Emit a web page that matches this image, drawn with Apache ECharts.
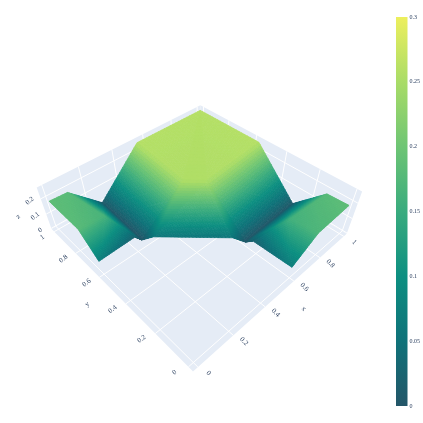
<!DOCTYPE html>
<html>
<head>
<meta charset="utf-8">
<script src="https://cdn.jsdelivr.net/npm/echarts@6/dist/echarts.min.js"></script>
<style>
html, body { margin: 0; background: #fff; }
#chart { width: 423px; height: 423px; }
</style>
</head>
<body>
<div id="chart"></div>
<script>
// surface vertices
const vertexNames = ['L1','L2','L3','L4','L5','L6a','L6','Lm','B1','B2','T1','T2','T3','Tl','Tr','R1','R2','R3','R4','R5','R6a','R6','Rm'];
const vertexX = [0, 0.10, 0.27, 0, 0, 0.235, 0.258, 0.141, 0.282, 0.552, 0.54, 1, 1, 0.511, 0.591, 1, 1, 1, 0.763, 0.6, 0.633, 0.615, 0.753];
const vertexY = [1, 1, 1, 0.75, 0.62, 0.667, 0.643, 0.755, 0.578, 0.311, 1, 1, 0.56, 0.61, 0.53, 0, 0.12, 0.29, 0, 0, 0.25, 0.283, 0.147];
const vertexZ = [0.185, 0.18, 0.005, 0.18, 0.07, 0.02, 0, 0.165, 0.055, 0.055, 0.258, 0.258, 0.258, 0.255, 0.255, 0.185, 0.18, 0.005, 0.17, 0.07, 0.02, 0, 0.16];
const faces = [
  'L1 L2 L4', 'L2 Lm L4', 'L2 L3 Lm', 'L3 L6 Lm', 'L6 L6a Lm', 'L6a L5 Lm', 'L5 L4 Lm',
  'R1 R2 R4', 'R2 Rm R4', 'R2 R3 Rm', 'R3 R6 Rm', 'R6 R6a Rm', 'R6a R5 Rm', 'R5 R4 Rm',
  'L3 T1 Tl', 'L3 Tl L6', 'L6 Tl B1', 'B1 Tl Tr', 'B1 Tr B2', 'B2 Tr R6', 'R6 Tr R3', 'R3 Tr T3',
  'T1 T2 Tl', 'T2 Tr Tl', 'T2 T3 Tr'
];
const xTicks = [0, 0.2, 0.4, 0.6, 0.8, 1];
const yTicks = [0, 0.2, 0.4, 0.6, 0.8, 1];
const zTicks = [0, 0.1, 0.2];
const colorStops = ['#245668', '#0f7279', '#0d8f81', '#39ab7e', '#6ec574', '#a9dc67', '#edef5d'];
const colorMax = [0.3];

// camera for the 3d box
const eye = [-0.473, -0.521, 1.476], view = [0.465, 0.510, -0.722];
const FOCAL = 426, CX = 191, CY = 231.3, ROLL = -Math.PI / 180, BOX_H = 0.263;
const xyRange = [-0.026, 1.026], zRange = [-0.005, 0.27];
const TEXT = '#2a3f5f', FONT = 'Liberation Serif';

const dot = (a, b) => a[0] * b[0] + a[1] * b[1] + a[2] * b[2];
const cross = (a, b) => [a[1] * b[2] - a[2] * b[1], a[2] * b[0] - a[0] * b[2], a[0] * b[1] - a[1] * b[0]];
const unit = a => { const l = Math.hypot(a[0], a[1], a[2]); return a.map(v => v / l); };
const fw = unit(view), rt = unit(cross(fw, [0, 0, 1])), dn = cross(fw, rt);

function projectBox(b) {
  const p = [b[0] - eye[0], b[1] - eye[1], b[2] - eye[2]];
  const d = dot(p, fw), u = dot(p, rt) / d * FOCAL, v = dot(p, dn) / d * FOCAL;
  return [CX + u * Math.cos(ROLL) - v * Math.sin(ROLL), CY + u * Math.sin(ROLL) + v * Math.cos(ROLL), d];
}
const bx = v => (v - xyRange[0]) / (xyRange[1] - xyRange[0]);
const bz = v => (v - zRange[0]) / (zRange[1] - zRange[0]) * BOX_H;
const project = (x, y, z) => projectBox([bx(x), bx(y), bz(z)]);

// split every face so the colour follows z smoothly
const STEPS = 22;
const cells = [];
faces.forEach(f => {
  const [a, b, c] = f.split(' ').map(n => vertexNames.indexOf(n));
  const at = (i, j) => {
    const k = STEPS - i - j;
    const w = arr => (arr[a] * k + arr[b] * i + arr[c] * j) / STEPS;
    return [w(vertexX), w(vertexY), w(vertexZ)];
  };
  const add = tri => {
    const pts = tri.map(p => project(p[0], p[1], p[2]));
    const z = (tri[0][2] + tri[1][2] + tri[2][2]) / 3;
    cells.push({
      points: pts.map(p => [p[0], p[1]]),
      depth: (pts[0][2] + pts[1][2] + pts[2][2]) / 3,
      color: echarts.color.lerp(z / colorMax[0], colorStops)
    });
  };
  for (let i = 0; i < STEPS; i++) {
    for (let j = 0; j < STEPS - i; j++) {
      add([at(i, j), at(i + 1, j), at(i, j + 1)]);
      if (i + j < STEPS - 1) add([at(i + 1, j), at(i + 1, j + 1), at(i, j + 1)]);
    }
  }
});
cells.sort((p, q) => q.depth - p.depth);

function wall(points) {
  return { type: 'polygon', shape: { points: points.map(p => projectBox(p).slice(0, 2)) }, style: { fill: '#E5ECF6' }, silent: true };
}
function gridLine(a, b) {
  const p = projectBox(a), q = projectBox(b);
  return { type: 'line', shape: { x1: p[0], y1: p[1], x2: q[0], y2: q[1] }, style: { stroke: '#fff', lineWidth: 1 }, silent: true };
}
function label(text, pos, dx, dy, rotation, size) {
  return {
    type: 'text', x: pos[0] + dx, y: pos[1] + dy, rotation: rotation,
    style: { text: text, fill: TEXT, fontFamily: FONT, fontSize: size, align: 'center', verticalAlign: 'middle' }
  };
}

function renderBox() {
  const kids = [
    wall([[0, 0, 0], [1, 0, 0], [1, 1, 0], [0, 1, 0]]),
    wall([[1, 0, 0], [1, 1, 0], [1, 1, BOX_H], [1, 0, BOX_H]]),
    wall([[0, 1, 0], [1, 1, 0], [1, 1, BOX_H], [0, 1, BOX_H]])
  ];
  xTicks.forEach(t => {
    kids.push(gridLine([bx(t), 0, 0], [bx(t), 1, 0]));
    kids.push(gridLine([bx(t), 1, 0], [bx(t), 1, BOX_H]));
    kids.push(label(String(t), projectBox([bx(t), 0, 0]), 10.5, 6, -0.8, 7));
  });
  yTicks.forEach(t => {
    kids.push(gridLine([0, bx(t), 0], [1, bx(t), 0]));
    kids.push(gridLine([1, bx(t), 0], [1, bx(t), BOX_H]));
    kids.push(label(String(t), projectBox([0, bx(t), 0]), -14 + 2 * t, 5.5, 0.65, 7));
  });
  zTicks.forEach(t => {
    kids.push(gridLine([0, 1, bz(t)], [1, 1, bz(t)]));
    kids.push(gridLine([1, 0, bz(t)], [1, 1, bz(t)]));
    kids.push(label(String(t), projectBox([0, 1, bz(t)]), -11, 2, 0.65, 7));
  });
  kids.push(label('x', projectBox([0.5, 0, 0]), 24, 15, -0.8, 7));
  kids.push(label('y', projectBox([0, 0.5, 0]), -25, 14, 0.65, 7));
  kids.push(label('z', projectBox([0, 1, bz(0.15)]), -25.5, 10, 0.65, 7));
  return { type: 'group', children: kids };
}

function renderCell(params, api) {
  const cell = cells[api.value(0)];
  return {
    type: 'polygon',
    shape: { points: cell.points },
    style: { fill: cell.color, stroke: cell.color, lineWidth: 0.7 },
    silent: true
  };
}

const chart = echarts.init(document.getElementById('chart'));
chart.setOption({
  animation: false,
  grid: { left: 396, width: 13, top: 17, height: 389 },
  xAxis: { type: 'category', data: [''], show: false },
  yAxis: {
    type: 'value', position: 'right', min: 0, max: colorMax[0], interval: 0.05,
    axisLine: { show: false }, axisTick: { show: false }, splitLine: { show: false },
    axisLabel: { fontSize: 6, fontFamily: FONT, color: TEXT, margin: 2, showMinLabel: true, showMaxLabel: true }
  },
  series: [
    { type: 'custom', coordinateSystem: 'none', data: [0], renderItem: renderBox, silent: true, z: 1 },
    {
      type: 'custom', coordinateSystem: 'none', data: cells.map((c, i) => i), renderItem: renderCell,
      silent: true, progressive: 0, z: 2, encode: { value: 0 }
    },
    {
      type: 'bar', data: colorMax, barWidth: '100%', silent: true,
      itemStyle: {
        color: new echarts.graphic.LinearGradient(0, 1, 0, 0,
          colorStops.map((c, i) => ({ offset: i / (colorStops.length - 1), color: c })))
      }
    }
  ]
});
</script>
</body>
</html>
